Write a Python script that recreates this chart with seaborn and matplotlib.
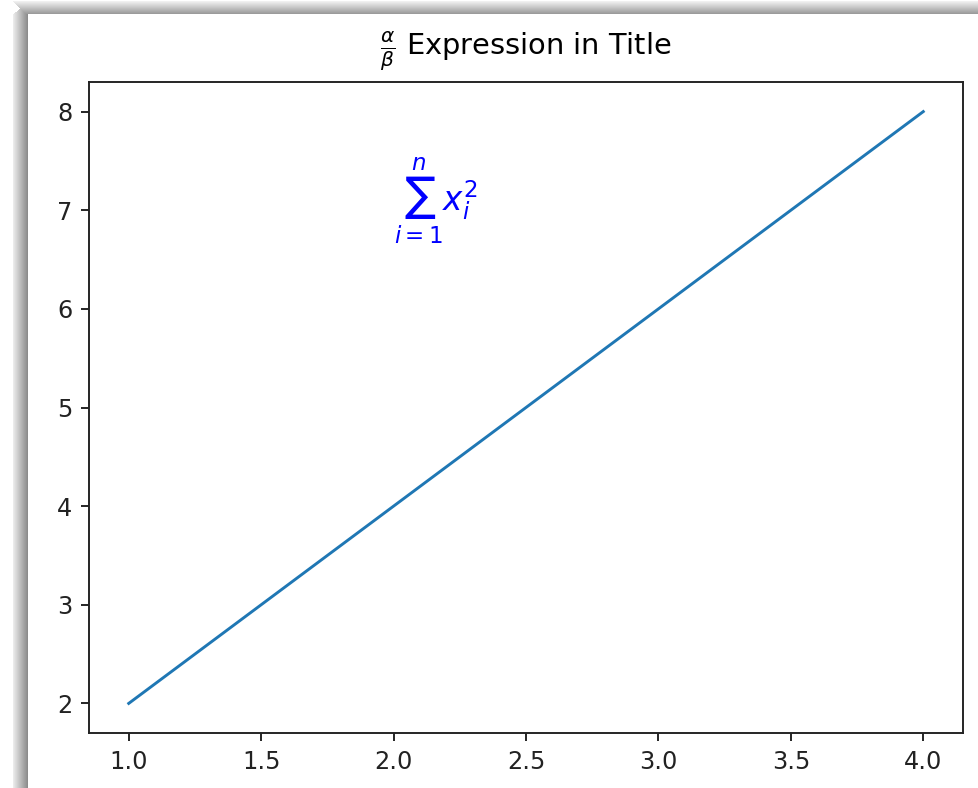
import matplotlib
matplotlib.use("Agg")
import pandas as pd
import seaborn as sns
from matplotlib import pyplot as plt
from matplotlib.patches import Rectangle

x_values = [1, 2, 3, 4]
y_values = [2, 4, 6, 8]
title_text = r"$\frac{\alpha}{\beta}$ Expression in Title"
note_text = r"$\sum_{i=1}^{n} x_i^2$"
note_x, note_y = 2, 7

SCALE = 1.73
W, H = 979, 788


def add_shadow(fig: plt.Figure) -> None:
    # grey gradient frame on the left and top, like the screenshot border
    left0, left1 = 13, 28
    top0, top1 = 1, 14
    for px in range(left0, left1):
        t = (px - left0) / (left1 - left0 - 1)
        g = (235 - 95 * t) / 255
        fig.patches.append(Rectangle((px / W, 0), 1 / W, (H - top1 + (px - left0) * 0.8) / H,
                                     transform=fig.transFigure, facecolor=(g, g, g),
                                     lw=0, zorder=-10))
    for py in range(top0, top1):
        t = (py - top0) / (top1 - top0 - 1)
        g = (240 - 85 * t) / 255
        x0 = left0 + (py - top0)
        fig.patches.append(Rectangle((x0 / W, 1 - (py + 1) / H), 1, 1 / H,
                                     transform=fig.transFigure, facecolor=(g, g, g),
                                     lw=0, zorder=-10))


def main() -> None:
    plt.rcParams["font.size"] = 10 * SCALE
    df = pd.DataFrame({"x": x_values, "y": y_values})

    fig = plt.figure(figsize=(W / 100, H / 100), dpi=100)
    ax = fig.add_axes([89 / W, 1 - 733 / H, (963 - 89) / W, (733 - 82) / H])
    sns.lineplot(data=df, x="x", y="y", ax=ax, color="#1f77b4", linewidth=2.1)

    ax.set_title(title_text, fontsize=12 * SCALE, pad=19)
    ax.text(note_x, note_y, note_text, fontsize=23.5, color="blue")
    ax.set_xlabel("")
    ax.set_ylabel("")
    ax.tick_params(labelsize=10 * SCALE, length=3.5 * SCALE, width=0.8 * SCALE,
                   pad=3.5 * SCALE, colors="#222222", labelcolor="#222222")
    for spine in ax.spines.values():
        spine.set_linewidth(0.8 * SCALE)
        spine.set_color("#222222")

    add_shadow(fig)
    fig.savefig("out.png", dpi=100)
    plt.close(fig)


if __name__ == "__main__":
    main()
